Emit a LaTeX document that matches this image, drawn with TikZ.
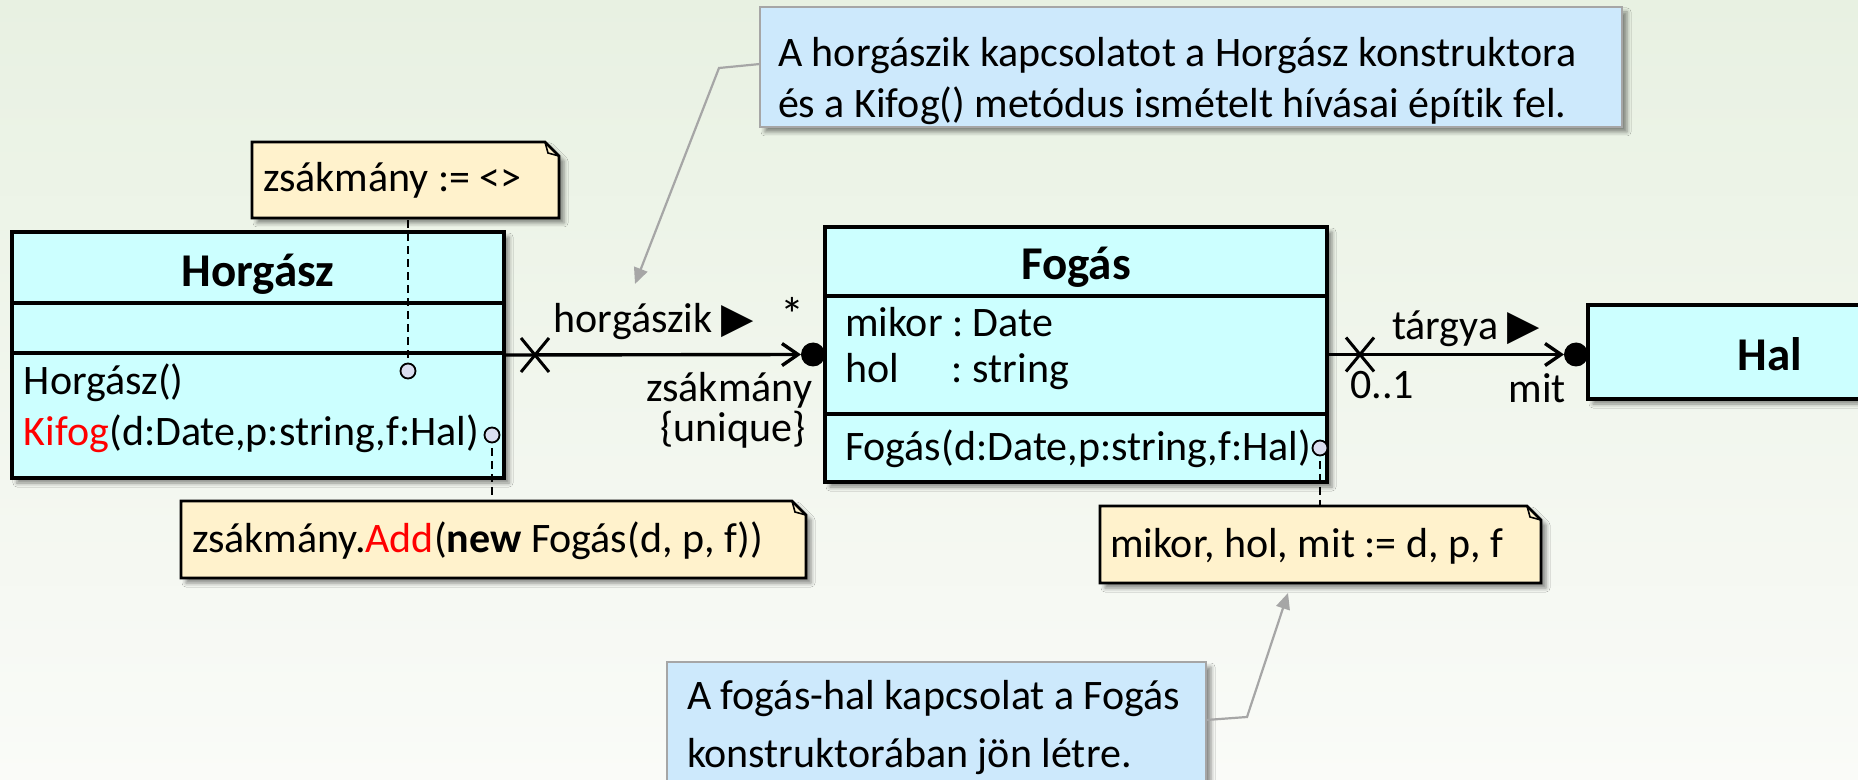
\documentclass[tikz,border=0pt]{standalone}
\usepackage{fontspec}
\setmainfont{Carlito}[Ligatures={NoCommon}]
\newfontfamily\symfont{DejaVu Sans}
\frenchspacing
\usetikzlibrary{arrows.meta,calc,fit,shadows.blur}
\definecolor{bgtop}{RGB}{232,241,226}
\definecolor{bgbot}{RGB}{250,251,248}
\definecolor{classfill}{RGB}{204,255,255}
\definecolor{notefill}{RGB}{255,242,204}
\definecolor{bluefill}{RGB}{205,233,252}
\definecolor{callgray}{RGB}{166,166,166}
\definecolor{circfill}{RGB}{218,222,240}
\tikzset{
  every node/.style={inner sep=0pt, outer sep=0pt},
  txt/.style={font=\fontsize{21}{25}\selectfont},
  ttl/.style={font=\fontsize{23.5}{28}\selectfont\bfseries},
  shad/.style={blur shadow={shadow xshift=2.5pt, shadow yshift=-2.5pt, shadow blur radius=2pt, shadow opacity=45}},
  classbox/.style={draw=black, line width=2pt, fill=classfill, shad},
  divider/.style={line width=1.6pt},
  assoc/.style={line width=1.7pt, -{Straight Barb[length=8pt,width=11pt]}},
  xmark/.style={line width=1.5pt},
  notebox/.style={draw=black, line width=1.3pt, fill=notefill, line join=miter, shad},
  fold/.style={line width=0.8pt},
  bluebox/.style={draw=callgray, line width=1.2pt, fill=bluefill, shad},
  callout/.style={draw=callgray, line width=1.1pt, -{Triangle[length=8pt,width=7pt]}},
  anchorline/.style={dash pattern=on 4pt off 2.5pt, line width=0.9pt},
  hole/.style={draw=black, line width=0.9pt, fill=circfill, circle, minimum size=7.5pt},
}
\begin{document}
\begin{tikzpicture}[x=0.5pt,y=-0.5pt]
\useasboundingbox (0,0) rectangle (1858,780);
\shade[top color=bgtop, bottom color=bgbot] (0,0) rectangle (1858,780);

% ---------- blue explanatory notes ----------
\node[bluebox, fit={(760,7) (1622,127)}] (tn) {};
\node[txt, anchor=west, align=left, font=\fontsize{21}{25.5}\selectfont] (tnt) at (778,81)
  {A horgászik kapcsolatot a Horgász konstruktora\\és a Kifog() metódus ismételt hívásai építik fel.};
\node[bluebox, fit={(667,662) (1206,815)}] (bn) {};
\node[txt, anchor=west, align=left, font=\fontsize{21}{29}\selectfont] (bnt) at (687,728)
  {A fogás-hal kapcsolat a Fogás\\konstruktorában jön létre.};

% ---------- classes ----------
\node[classbox, fit={(12,232) (504,478)}] (horg) {};
\draw[divider] ($(horg.north west)+(0,71)$) -- ($(horg.north east)+(0,71)$);
\draw[divider] ($(horg.north west)+(0,121)$) -- ($(horg.north east)+(0,121)$);
\node[ttl] (ht) at (258,274) {Horgász};
\node[txt, anchor=west] (hm1) at (24,383) {Horgász()};
\node[txt, anchor=west] (hm2) at (24,434) {\textcolor{red}{Kifog}(d:Date,p:string,f:Hal)};

\node[classbox, fit={(825,227) (1327,482)}] (fog) {};
\draw[divider] ($(fog.north west)+(0,69)$) -- ($(fog.north east)+(0,69)$);
\draw[divider] ($(fog.north west)+(0,187)$) -- ($(fog.north east)+(0,187)$);
\node[ttl] (ft) at (1076,267) {Fogás};
\node[txt, anchor=west] (fa1) at (845,322) {mikor : Date};
\node[txt, anchor=west] (fa2) at (845,372) {\makebox[53.5pt][l]{hol}: string};
\node[txt, anchor=west] (fm1) at (845,449) {Fogás(d:Date,p:string,f:Hal)};

\node[classbox, fit={(1588,305) (1952,399)}] (hal) {};
\node[ttl] (hlt) at (1770,354) {Hal};

% ---------- yellow notes ----------
\node[fit={(252,142) (559,218)}] (n1) {};
\path[notebox] (n1.north west) -- ($(n1.north east)+(-14,0)$) -- ($(n1.north east)+(0,14)$) -- (n1.south east) -- (n1.south west) -- cycle;
\draw[fold] ($(n1.north east)+(-14,0)$) -- ($(n1.north east)+(-11,11)$) -- ($(n1.north east)+(0,14)$);
\node[txt, anchor=west] (n1t) at (263,180) {zsákmány := <>};

\node[fit={(181,501) (806,578)}] (n2) {};
\path[notebox] (n2.north west) -- ($(n2.north east)+(-14,0)$) -- ($(n2.north east)+(0,14)$) -- (n2.south east) -- (n2.south west) -- cycle;
\draw[fold] ($(n2.north east)+(-14,0)$) -- ($(n2.north east)+(-11,11)$) -- ($(n2.north east)+(0,14)$);
\node[txt, anchor=west] (n2t) at (192,541) {zsákmány.\textcolor{red}{Add}(\textbf{new} Fogás(d, p, f))};

\node[fit={(1100,506) (1541,583)}] (n3) {};
\path[notebox] (n3.north west) -- ($(n3.north east)+(-14,0)$) -- ($(n3.north east)+(0,14)$) -- (n3.south east) -- (n3.south west) -- cycle;
\draw[fold] ($(n3.north east)+(-14,0)$) -- ($(n3.north east)+(-11,11)$) -- ($(n3.north east)+(0,14)$);
\node[txt, anchor=west] (n3t) at (1110,546) {mikor, hol, mit := d, p, f};

% ---------- note anchors ----------
\coordinate (c1) at (408,371);
\coordinate (c2) at (492,435);
\coordinate (c3) at (1320,448);
\draw[anchorline] (c1) -- (c1 |- n1.south);
\draw[anchorline] (c2) -- (c2 |- n2.north);
\draw[anchorline] (c3) -- (c3 |- n3.north);
\node[hole] (h1) at (c1) {};
\node[hole] (h2) at (c2) {};
\node[hole] (h3) at (c3) {};

% ---------- associations ----------
\coordinate (d1) at ($(fog.west)+(-12,0)$);
\draw[assoc] (horg.east) -- ($(d1)+(-12,0)$);
\fill (d1) circle[radius=6pt];
\coordinate (x1) at ($(horg.east)+(31,0)$);
\draw[xmark] ($(x1)+(-14,-17)$) -- ($(x1)+(14,17)$) ($(x1)+(-14,17)$) -- ($(x1)+(14,-17)$);

\coordinate (d2) at ($(hal.west |- fog.east)+(-12,0)$);
\draw[assoc] (fog.east) -- ($(d2)+(-12,0)$);
\fill (d2) circle[radius=6pt];
\coordinate (x2) at ($(fog.east)+(33,0)$);
\draw[xmark] ($(x2)+(-14,-17)$) -- ($(x2)+(14,17)$) ($(x2)+(-14,17)$) -- ($(x2)+(14,-17)$);

\node[txt] (lh) at (654,322) {horgászik {\symfont ▶}};
\node[txt, font=\fontsize{24}{28}\selectfont] (ls) at (792,314) {*};
\node[txt, anchor=east] (lz) at (812,390) {zsákmány};
\node[txt] (lu) at (733,430) {\{unique\}};
\node[txt] (lt) at (1466,329) {tárgya {\symfont ▶}};
\node[txt] (lm) at (1382,385) {0..1};
\node[txt, anchor=east] (lmit) at (1566,388) {mit};

% ---------- callouts ----------
\coordinate (k1) at (719,68);
\coordinate (t1) at (635,284);
\draw[callout] ($(tn.north west)+(0,57)$) -- (k1) -- (t1);
\coordinate (k2) at (1247,717);
\coordinate (t2) at (1288,593);
\draw[callout] ($(bn.north east)+(0,58)$) -- (k2) -- (t2);
\end{tikzpicture}
\end{document}
